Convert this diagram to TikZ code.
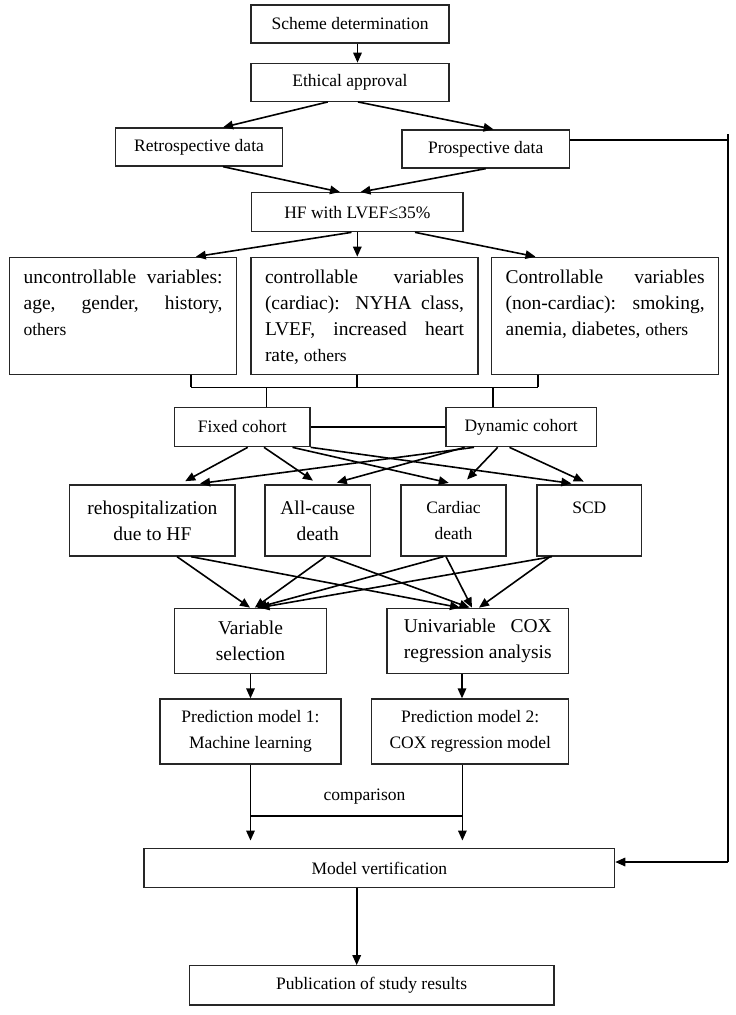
\documentclass[tikz,border=0pt]{standalone}
\usepackage{fontspec}
\setmainfont{Liberation Serif}
\usetikzlibrary{arrows.meta,calc}
\newcommand{\fsbig}{\fontsize{19.5}{26}\selectfont}
\newcommand{\fssmall}{\fontsize{17.5}{26}\selectfont}
\newcommand{\vtext}[1]{\begin{minipage}[c][117pt][t]{199pt}\fsbig\vspace*{12.5pt}#1\end{minipage}}
\newcommand{\jline}[1]{\makebox[\linewidth][s]{#1}\par}
\tikzset{
  box/.style={draw=black!85, line width=1.3pt, inner sep=0pt, align=center, font=\fssmall},
  bigbox/.style={box, font=\fsbig},
  vbox/.style={draw=black!85, line width=1.3pt, inner xsep=14pt, inner ysep=0pt},
  arr/.style={line width=1.6pt, -{Triangle[length=10pt,width=8.5pt]}},
  ln/.style={line width=1.2pt},
}
\begin{document}
\begin{tikzpicture}[x=1pt,y=-1pt]
\fill[white] (0,0) rectangle (736,1015);
\useasboundingbox (0,0) rectangle (736,1015);

% boxes
\node[box, minimum width=198pt, minimum height=38pt] (scheme) at (350,24) {Scheme determination};
\node[box, minimum width=198pt, minimum height=38pt] (eth) at (350,82.3) {Ethical approval};
\node[box, minimum width=167pt, minimum height=38pt] (retro) at (199,147) {Retrospective data};
\node[box, minimum width=167.5pt, minimum height=38pt] (pros) at (485.7,149) {Prospective data};
\node[box, minimum width=211.4pt, minimum height=39pt] (hf) at (357.3,212.2) {HF with LVEF≤35\%};

\node[vbox] (v1) at (123.1,315.8) {\vtext{\jline{uncontrollable variables:}\jline{age, gender, history,}{\fssmall others}}};
\node[vbox] (v2) at (364.5,315.8) {\vtext{\jline{controllable variables}\jline{(cardiac): NYHA class,}\jline{LVEF, increased heart}rate, {\fssmall others}}};
\node[vbox] (v3) at (605.2,315.8) {\vtext{\jline{Controllable variables}\jline{(non-cardiac): smoking,}anemia, diabetes, {\fssmall others}}};

\node[box, minimum width=135.4pt, minimum height=39.4pt] (fixed) at (242.3,427) {Fixed cohort};
\node[box, minimum width=150.4pt, minimum height=39.4pt] (dyn) at (521.2,427) {Dynamic cohort};

\node[bigbox, minimum width=165.2pt, minimum height=71pt] (o1) at (152.4,520.5) {rehospitalization\\due to HF};
\node[bigbox, minimum width=105.4pt, minimum height=71pt] (o2) at (317.7,520.5) {All-cause\\death};
\node[box, minimum width=105pt, minimum height=71pt] (o3) at (453.5,520.5) {Cardiac\\death};
\node[box, minimum width=104.6pt, minimum height=71pt] (o4) at (589.3,520.5) {SCD\\\mbox{}};

\node[bigbox, minimum width=151.7pt, minimum height=65pt] (vs) at (250.5,640.8) {Variable\\selection};
\node[bigbox, minimum width=181.6pt, minimum height=65pt] (uv) at (477.8,640.8) {\makebox[148pt][s]{Univariable COX}\\regression analysis};
\node[box, minimum width=181.1pt, minimum height=65pt] (p1) at (250.5,731.5) {Prediction model 1:\\Machine learning};
\node[box, minimum width=196.8pt, minimum height=65pt] (p2) at (470.2,731.5) {Prediction model 2:\\COX regression model};
\node[box, minimum width=470.6pt, minimum height=39pt] (model) at (379.3,868.2) {Model vertification};
\node[box, minimum width=364.5pt, minimum height=39.3pt] (pub) at (371.6,985.4) {Publication of study results};
\node[font=\fssmall, inner sep=0pt] (cmpt) at (364.5,797) {comparison};

% top arrows
\draw[arr] ([xshift=7.5pt]scheme.south) -- ([xshift=7.5pt]eth.north);
\draw[arr] ([xshift=-22.3pt]eth.south) -- ([xshift=24pt]retro.north);
\draw[arr] ([xshift=8pt]eth.south) -- ([xshift=7.9pt]pros.north);
\draw[arr] ([xshift=24pt]retro.south) -- ([xshift=-17.3pt]hf.north);
\draw[arr] (pros.south) -- ([xshift=3.2pt]hf.north);
\draw[arr] ([xshift=-5.8pt]hf.south) -- ([xshift=72.7pt]v1.north);
\draw[arr] (hf.south) -- (hf.south |- v2.north);
\draw[arr] ([xshift=57.7pt]hf.south) -- ([xshift=-69.7pt]v3.north);

% bracket under variable boxes
\coordinate (brL) at (191,387.3);
\coordinate (brR) at (538,387.3);
\coordinate (t1) at ([xshift=67.9pt]v1.south);
\coordinate (t2) at ([xshift=-7.5pt]v2.south);
\coordinate (t3) at ([xshift=-67.2pt]v3.south);
\draw[ln] (t1) -- (t1 |- brL);
\draw[ln] (t2) -- (t2 |- brL);
\draw[ln] (t3) -- (t3 |- brL);
\draw[ln] (brL) -- (brR);
\coordinate (fa) at ([xshift=24.3pt]fixed.north);
\coordinate (da) at ([xshift=-28.2pt]dyn.north);
\draw[ln] (fa |- brL) -- (fa);
\draw[ln] (da |- brL) -- (da);
\draw[ln] (fixed.east) -- (dyn.west);

% cohort to outcomes
\begin{scope}[arr, shorten >=6.7pt]
\draw ([xshift=5.4pt]fixed.south) -- ([xshift=26.9pt]o1.north);
\draw ([xshift=21.7pt]fixed.south) -- ([xshift=0.8pt]o2.north);
\draw ([xshift=50.2pt]fixed.south) -- ([xshift=1.8pt]o3.north);
\draw (fixed.south east) -- ([xshift=-11.3pt]o4.north);
\draw ([xshift=-47.2pt]dyn.south) -- ([xshift=41pt]o1.north);
\draw ([xshift=-56.5pt]dyn.south) -- ([xshift=12.6pt]o2.north);
\draw ([xshift=-23.5pt]dyn.south) -- ([xshift=8.9pt]o3.north);
\draw ([xshift=-11.7pt]dyn.south) -- ([xshift=0.5pt]o4.north);
\end{scope}

% outcomes to analyses
\draw[arr] ([xshift=24.6pt]o1.south) -- ([xshift=-0.5pt]vs.north);
\draw[arr] ([xshift=38.6pt]o1.south) -- ([xshift=-17.8pt]uv.north);
\draw[arr] ([xshift=7.8pt]o2.south) -- ([xshift=4.3pt]vs.north);
\draw[arr] ([xshift=12.3pt]o2.south) -- ([xshift=-8.3pt]uv.north);
\draw[arr] ([xshift=-10pt]o3.south) -- ([xshift=6.5pt]vs.north);
\draw[arr] ([xshift=-7.5pt]o3.south) -- ([xshift=-5.8pt]uv.north);
\draw[arr] ([xshift=-37.3pt]o4.south) -- ([xshift=9pt]vs.north);
\draw[arr] ([xshift=-39.3pt]o4.south) -- ([xshift=1.2pt]uv.north);

% analyses to models
\draw[arr] (vs.south) -- (p1.north);
\coordinate (ub) at ([xshift=-15.8pt]uv.south);
\draw[arr] (ub) -- (ub |- p2.north);

% comparison
\coordinate (p2b) at ([xshift=-7.8pt]p2.south);
\coordinate (cmp) at (364.5,816);
\draw[arr, shorten >=7.5pt] (p1.south) -- (p1.south |- model.north);
\draw[arr, shorten >=7.5pt] (p2b) -- (p2b |- model.north);
\draw[ln] (p1.south |- cmp) -- (p2b |- cmp);

% model to publication
\coordinate (mb) at ([xshift=-22.6pt]model.south);
\draw[arr] (mb) -- (mb |- pub.north);

% right feedback line
\coordinate (pr) at ([yshift=9pt]pros.east);
\coordinate (rt) at (728,134);
\coordinate (rb) at (728,862);
\draw[ln] (pr) -- (pr -| rt);
\draw[ln] (rt) -- (rb);
\draw[arr] (rb) -- (rb -| model.east);
\end{tikzpicture}
\end{document}
